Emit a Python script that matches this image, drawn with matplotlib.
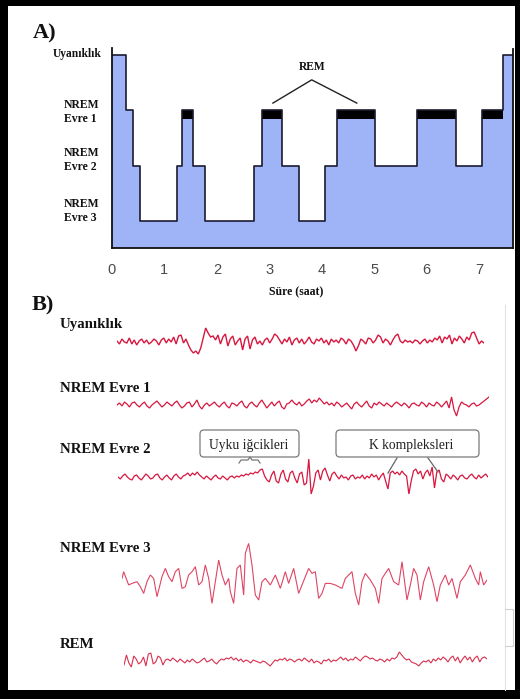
import matplotlib
matplotlib.use('Agg')
import matplotlib.pyplot as plt
from matplotlib.patches import FancyBboxPatch
import numpy as np

# ---------------- data ----------------
# Panel A: hypnogram (hours, stage)
stage_times = [0.0, 0.27, 0.41, 0.53, 1.24, 1.34, 1.54, 1.78, 2.71, 2.86,
               3.24, 3.56, 4.06, 4.29, 5.02, 5.81, 6.57, 7.06, 7.45]
stage_names = ['W', 'N1', 'N2', 'N3', 'N2', 'REM', 'N2', 'N3', 'N2', 'REM',
               'N2', 'N3', 'N2', 'REM', 'N2', 'REM', 'N2', 'REM', 'W']
end_time = 7.65
stage_levels = {'W': 4, 'N1': 3, 'REM': 3, 'N2': 2, 'N3': 1}
x_ticks = [0, 1, 2, 3, 4, 5, 6, 7]

# Panel B: EEG traces (amplitude, arbitrary units)
wake = [1, -2, 3, 0, -1, 4, -2, 2, -3, 1,
        3, -1, 2, -2, 0, 3, 1, -3, 2, 4,
        -1, 3, 0, 5, -2, 6, 7, -1, 3, -3,
        -8, -11, -9, -12, -6, 4, 14, 9, 5, 6,
        2, 7, -2, 5, 8, -4, 3, 6, -3, 1,
        4, -8, 3, 6, -7, 2, 5, -2, 1, -3,
        2, 4, -1, 3, 8, 6, 2, -2, 3, 0,
        5, -3, 2, 4, -1, 3, -2, 1, 5, 0,
        -2, 3, 1, 4, -1, 2, -3, 3, 0, 2,
        -1, 4, 2, -2, 3, 1, -3, -9, -4, 3,
        1, -2, 4, 3, -1, 2, 7, 5, -1, 3,
        1, -3, 2, 6, 8, 1, -1, 2, 0, 1,
        -1, 2, 1, -2, 1, 3, -1, 2, 0, 4,
        2, 6, -1, 5, 3, 7, -2, 4, 1, 6,
        3, -1, 5, 2, 9, 10, 4, -2, 1, -1]

nrem1 = [0, 2, -1, 3, 1, -2, 2, 3, 0, -2,
         1, 3, -1, -3, 0, 2, 4, 1, -2, 0,
         3, 1, -1, 2, 4, 0, -3, -1, 2, 3,
         -2, 1, 5, -1, -4, 0, 2, -1, 1, 3,
         0, -2, 1, 3, -1, -3, 2, 1, -1, 2,
         4, -1, -3, 1, 3, 0, -2, 2, 5, 1,
         -3, 0, 3, -1, 2, 4, -2, -4, 1, 2,
         5, 2, 0, 3, -1, 1, 4, 6, 2, 5,
         3, 7, 4, 1, 3, 0, 2, -1, 3, 1,
         -2, 0, 2, -1, -4, 1, 3, 0, -2, 1,
         4, -1, -3, 2, 0, 3, 1, -1, 2, 0,
         -2, 1, 3, 1, -1, 2, 0, -3, 1, 2,
         0, -1, 3, 1, -2, 2, 0, -1, 3, 1,
         -2, 1, 4, -3, 8, -5, -11, -2, 3, 1,
         0, -2, 1, 2, -1, 0, 2, 4, 6, 8]

nrem2 = [0, -2, 1, 3, 0, -2, -3, 1, 2, -1,
         -3, 0, 3, 1, -2, -1, 2, 3, -1, -3,
         0, 2, -1, -3, 1, 3, 0, -2, 1, 2,
         4, 1, 4, 2, 5, 2, 0, -2, 1, -1,
         -3, 0, 2, -1, -2, 1, -1, -3, 0, 1,
         -1, 1, 0, 2, 1, 3, 2, 4, 3, 5,
         4, 7, 8, 1, -3, -5, 2, 6, -4, -6,
         3, 7, -2, -5, 4, 6, -1, -6, 3, 5,
         -8, -6, 18, -17, -9, 4, 7, -3, 6, 9,
         2, -4, 3, 5, 1, -2, 2, -1, 0, -3,
         1, 2, -2, 0, -1, 2, -2, 1, -1, 3,
         0, 2, -3, 1, 4, -4, -12, 4, 6, 3,
         5, 2, 6, 3, 1, -17, -4, 6, 8, 3,
         6, -2, 4, 7, 1, 10, -11, 5, 7, -2,
         -5, 3, 1, -2, 2, 0, -3, 1, 2, -1,
         -2, 1, 3, 0, -2, 2, -1, 1, 3, 0]

nrem3_t = [30, 35, 50, 60, 75, 85, 95, 105, 115, 125, 135, 150, 160, 170, 180,
           190, 200, 210, 220, 230, 240, 250, 260, 270, 280, 290, 300, 310, 320,
           330, 340, 350, 355, 365, 375, 385, 395, 400, 410, 420, 430, 440, 450,
           460, 475, 490, 505, 520, 530, 545, 560, 570, 590, 600, 610, 620, 630,
           640, 655, 670, 690, 700, 720, 730, 740, 750, 760, 775, 790, 800, 810,
           830, 845, 860, 870, 885, 895, 905, 915, 925, 935, 950, 965, 975, 985,
           1000, 1010, 1020, 1035, 1045, 1060, 1075, 1090, 1100, 1105, 1115, 1125]
nrem3 = [3.3, 10, -3.3, -1.7, 0, -5, -11.7, 0, 6.7, 3.3, -15, 5, 13.3, 5, 0,
         10, 13.3, -6.7, -5, 6.7, 10, 15, -3.3, 0, 16.7, 3.3, -21.7, 0, 21.7,
         6.7, -3.3, 3.3, -10, -21.7, 13.3, 16.7, -13.3, 28.3, 38.3, 16.7, -13.3, -18.3, 0,
         3.3, -3.3, 6.7, -6.7, 10, -1.7, 13.3, -11.7, -3.3, 13.3, 8.3, 10, -16.7, -11.7,
         -1.7, -1.7, -3.3, -6.7, 3.3, 10, -11.7, -23.3, 0, 8.3, 1.7, -6.7, -21.7, 3.3,
         13.3, 0, -3.3, 20, -18.3, -3.3, 13.3, 6.7, -18.3, 0, 15, -3.3, -20, -3.3,
         6.7, -3.3, 3.3, -16.7, 0, 6.7, 16.7, 3.3, -3.3, 10, -3.3, 1.7]

rem = [-4, 6, -2, -6, 5, 2, -3, -1, 4, -5,
       7, 8, -3, -1, 5, 3, -4, 1, 2, 0,
       3, 1, -1, 2, 0, -2, 1, -1, 2, 0,
       -2, -1, 1, 3, -1, 0, 2, -1, -3, 0,
       2, 1, 3, 2, 4, 1, 3, 0, 2, -1,
       1, 0, -2, 1, 0, -1, -2, 0, -1, -3,
       -5, -2, 1, 0, 2, 1, 3, 0, 2, 1,
       -1, 1, 2, 0, 3, 1, -1, 2, -2, 0,
       -1, -3, 1, 0, 2, -1, 1, 0, 2, 4,
       1, 3, 0, 2, 1, 4, 2, 0, 3, 5,
       4, 2, 3, 1, 0, 2, 1, -1, 2, 0,
       3, 2, 4, 9, 6, 3, 1, 2, -1, -2,
       -3, -5, -2, 0, -1, 1, -2, 2, 0, 3,
       1, 4, 2, -1, 3, 5, 0, 4, -2, 2,
       5, 1, 4, -1, 3, 5, -1, 3, 4, 2]

# ---------------- figure ----------------
W, H = 520, 699
fig = plt.figure(figsize=(5.2, 6.99), dpi=100)
fig.patch.set_facecolor('black')

SERIF = 'Liberation Serif'
SANS = 'Liberation Sans'


def px_axes(x0, x1, yt, yb):
    return fig.add_axes([x0 / W, 1 - yb / H, (x1 - x0) / W, (yb - yt) / H])


bg = px_axes(8, 515, 6, 690)
bg.set_facecolor('white')
bg.set_xticks([])
bg.set_yticks([])
for s in bg.spines.values():
    s.set_visible(False)
bg.set_zorder(-10)

# ---------------- panel A ----------------
ax = px_axes(112, 513, 45, 248)
ax.set_xlim(0, end_time)
ax.set_ylim(0.51, 4.18)
ax.patch.set_alpha(0)

edges = stage_times + [end_time]
levels = [stage_levels[s] for s in stage_names]
levels_ext = levels + [levels[-1]]
ax.fill_between(edges, levels_ext, 0.51, step='post', color='#9fb4f6', lw=0)
for i, s in enumerate(stage_names):
    if s == 'REM':
        ax.bar(edges[i], 0.165, width=edges[i + 1] - edges[i], bottom=3 - 0.165,
               align='edge', color='black', lw=0)
ax.step(edges, levels_ext, where='post', color='#1b1b30', lw=1.2)

for side in ['left', 'right', 'bottom']:
    ax.spines[side].set_color('#111111')
    ax.spines[side].set_linewidth(1.3)
ax.spines['top'].set_visible(False)
ax.spines['left'].set_bounds(0.51, 4.13)
ax.spines['right'].set_bounds(0.51, 4.10)

ax.set_yticks([])
ax.set_xticks(x_ticks)
ax.tick_params(axis='x', length=0, pad=10.8, labelsize=10.5, labelcolor='#4a4a4a')
for lbl in ax.get_xticklabels():
    lbl.set_fontfamily(SANS)

# REM annotation
ax.plot([3.07, 3.81, 4.67], [3.13, 3.55, 3.13], color='#222222', lw=1.0)
ax.text(3.81, 3.73, 'REM', ha='center', va='baseline', fontsize=8.3,
        fontfamily=SERIF, fontweight='bold', color='#111111')

# ---------------- panel B traces ----------------
TRACE_RED = '#d8173f'


def trace(x0, x1, yt, yb, values, ylim, color, lw, t=None):
    a = px_axes(x0, x1, yt, yb)
    if t is None:
        t = np.arange(len(values))
    a.plot(t, values, color=color, lw=lw, solid_joinstyle='miter')
    a.set_xlim(t[0], t[-1])
    a.set_ylim(*ylim)
    a.axis('off')
    return a


trace(117, 484, 327, 357, wake, (-15, 15), TRACE_RED, 1.0)
trace(117, 489, 393, 417, nrem1, (-12, 12), TRACE_RED, 0.9)
trace(118, 488, 457, 497, nrem2, (-20, 20), TRACE_RED, 0.9)
trace(122, 487, 541.7, 606.7, nrem3, (-25, 40), '#df4564', 0.8, t=nrem3_t)
trace(124, 487, 649, 673, rem, (-12, 12), '#d8304f', 0.8)

# ---------------- overlay (text & callouts) ----------------
ov = fig.add_axes([0, 0, 1, 1])
ov.set_xlim(0, W)
ov.set_ylim(H, 0)
ov.axis('off')

bold = dict(fontfamily=SERIF, fontweight='bold', color='#111111')

ov.text(33, 38, 'A)', fontsize=16, va='baseline', ha='left', **bold)
ov.text(32, 310, 'B)', fontsize=16, va='baseline', ha='left', **bold)

# panel A y labels
ov.text(53, 57, 'Uyanıklık', fontsize=8.3, va='baseline', ha='left', **bold)
for top_b, bot_b, num in [(108.3, 122.3, '1'), (155.7, 170, '2'), (206.7, 221, '3')]:
    ov.text(64, top_b, 'NREM', fontsize=8.5, va='baseline', ha='left', **bold)
    ov.text(64, bot_b, 'Evre ' + num, fontsize=8.5, va='baseline', ha='left', **bold)
ov.text(296, 295, 'Süre (saat)', fontsize=8.5, va='baseline', ha='center', **bold)

# panel B labels
for yb, txt in [(328, 'Uyanıklık'), (392, 'NREM Evre 1'), (453, 'NREM Evre 2'),
                (551.7, 'NREM Evre 3'), (647.7, 'REM')]:
    ov.text(60, yb, txt, fontsize=10.7, va='baseline', ha='left', **bold)

# callout boxes
for (bx, bw, tx, txt) in [(200, 99, 249, 'Uyku iğcikleri'),
                          (336, 143, 411, 'K kompleksleri')]:
    box = FancyBboxPatch((bx, 430), bw, 27,
                         boxstyle='round,pad=0,rounding_size=4',
                         fc='white', ec='#7a7a7a', lw=0.9)
    ov.add_patch(box)
    ov.text(tx, 449, txt, fontsize=9.8, va='baseline', ha='center',
            fontfamily=SERIF, color='#222222')

# brace under "Uyku iğcikleri"
ov.plot([239, 241, 248, 250, 252, 258, 260],
        [463, 460, 460, 457, 460, 460, 463], color='#777777', lw=0.9)
# pointers from "K kompleksleri"
ov.plot([397, 388], [458, 473], color='#666666', lw=0.9)
ov.plot([428, 438], [458, 472], color='#666666', lw=0.9)

# faint panel-B frame edges
ov.plot([505, 505], [305, 690], color='#e2e2e2', lw=0.8)
ov.plot([505, 513, 513, 505], [609, 609, 646, 646], color='#d0d0d0', lw=0.8)

fig.savefig('out.png', dpi=100, facecolor=fig.get_facecolor())
